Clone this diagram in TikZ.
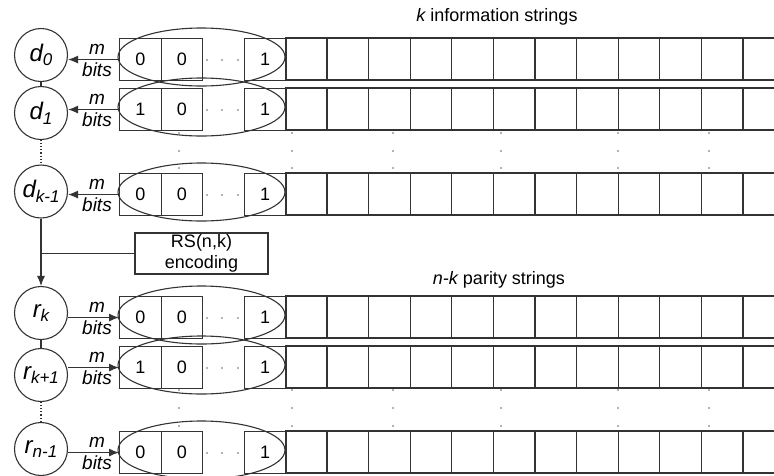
\documentclass[tikz,border=0pt]{standalone}
\usepackage{fontspec}
\setmainfont{Liberation Sans}
\usetikzlibrary{arrows.meta,shapes.geometric}
\newcommand\myfs[1]{\fontsize{#1}{#1}\selectfont}
\newcommand\sublbl[2]{{\myfs{24}\itshape #1}{\myfs{17}\itshape\raisebox{-0.28em}{#2}}}
\begin{document}
\begin{tikzpicture}[x=1pt,y=-1pt,
  ln/.style={draw=black!80,line width=1.1pt},
  cell/.style={ln,minimum width=41.6pt,minimum height=42pt,inner sep=0pt,anchor=north west,font=\myfs{18}},
  circ/.style={ln,circle,minimum size=53pt,inner sep=0pt},
  arr/.style={ln,-{Latex[length=10pt,width=8pt]}},
  lbl/.style={inner sep=0pt,font=\myfs{19}\itshape},
  ttl/.style={inner sep=0pt,font=\myfs{18}},
  dot/.style={fill=black!60}
]
\useasboundingbox (0,0) rectangle (774,475);
\clip (0,0) rectangle (774,475);

% titles
\node[ttl] (t1) at (497,17) {{\itshape k} information strings};
\node[ttl] (t2) at (499,280) {{\itshape n-k} parity strings};

% rows of strings
\foreach \t/\i/\f in {38/1/0,88/2/1,173/3/0,296/4/0,346/5/1,431/6/0}{
  \node[cell] (a\i) at (119,\t) {\f};
  \node[cell] (b\i) at (160.6,\t) {0};
  \node[cell] (e\i) at (243.8,\t) {1};
  \foreach \j in {4,...,15}{
    \draw[ln] (119+\j*41.6,\t) rectangle ++(41.6,42);
  }
  \foreach \x in {207,222,238}{
    \fill[dot] (\x,\t+22) circle [radius=0.8];
  }
  \draw[ln] (201.5,\t+19) ellipse [x radius=83.5, y radius=29];
}

% dots between rows
\foreach \x in {179,292,393,501,618,709}{
  \foreach \y in {133,151,168,390,408,426}{
    \fill[dot] (\x,\y) circle [radius=0.8];
  }
}

% symbol circles
\node[circ] (d0) at (41,55) {\sublbl{d}{0}};
\node[circ] (d1) at (41,113) {\sublbl{d}{1}};
\node[circ] (dk) at (41,191.5) {\sublbl{d}{k-1}};
\node[circ] (rk) at (41,313) {\sublbl{r}{k}};
\node[circ] (rk1) at (41,375) {\sublbl{r}{k+1}};
\node[circ] (rn) at (41,449) {\sublbl{r}{n-1}};

% links between circles
\draw[ln] (d0) -- (d1);
\draw[ln,dotted] (d1) -- (dk);
\draw[arr] (dk) -- (rk);
\draw[ln] (rk) -- (rk1);
\draw[ln,dotted] (rk1) -- (rn);

% RS encoding box
\node[ln,minimum width=133pt,minimum height=41pt,inner sep=0pt,align=center,font=\fontsize{18}{21}\selectfont] (rs) at (201.5,253.5) {RS(n,k)\\encoding};
\draw[ln] (rs.west) -- (rs.west -| dk.south);

% m bits arrows
\foreach \i/\c in {d0/1,d1/2,dk/3}{
  \draw[arr] (a\c.west) -- (a\c.west -| \i.east);
}
\foreach \i/\c in {rk/4,rk1/5,rn/6}{
  \draw[arr] (a\c.west -| \i.east) -- (a\c.west);
}
\foreach \c/\y in {1/59,2/109,3/194,4/317,5/367,6/452}{
  \node[lbl] (m\c) at (97,\y-10) {m};
  \node[lbl] (bt\c) at (97,\y+11) {bits};
}
\end{tikzpicture}
\end{document}
